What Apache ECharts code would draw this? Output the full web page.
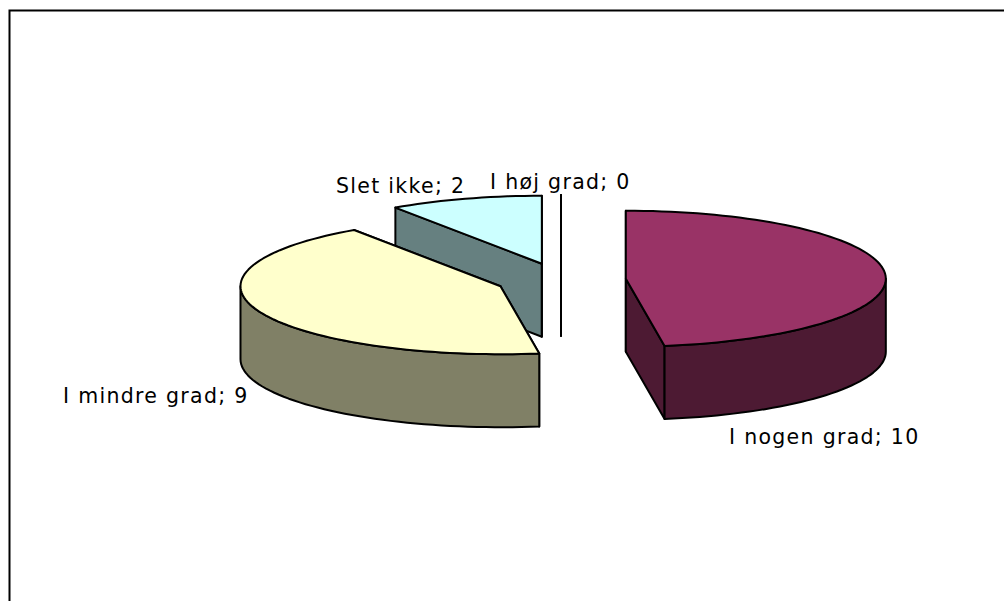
<!DOCTYPE html>
<html>
<head>
<meta charset="utf-8">
<style>
html, body { margin: 0; padding: 0; background: #fff; overflow: hidden; }
#main { width: 1004px; height: 601px; }
/* the original font is wider than DejaVu Sans */
#main text { letter-spacing: 1.3px; }
</style>
<script src="https://cdn.jsdelivr.net/npm/echarts@6/dist/echarts.min.js"></script>
</head>
<body>
<div id="main"></div>
<script>
// clockwise from 12 o'clock
var categories = ['I nogen grad', 'I mindre grad', 'Slet ikke', 'I høj grad'];
var values = [10, 9, 2, 0];
var topColors = ['#993366', '#FFFFCC', '#CCFFFF', '#000000'];
var sideColors = ['#4D1A33', '#808066', '#668080', '#000000'];
var labelPos = [[729, 437], [63, 396], [336, 186], [490, 181.5]];

// pie geometry
var cx = 561, cy = 280, rx = 260, ry = 68, depth = 73, explode = 65;
var total = values.reduce(function (a, b) { return a + b; }, 0);

function rimPoint(c, deg, down) {
  var a = deg * Math.PI / 180;
  return [c[0] + rx * Math.sin(a), c[1] - ry * Math.cos(a) + (down || 0)];
}

function arcPoints(c, from, to, down) {
  var pts = [];
  var n = Math.max(1, Math.ceil((to - from) / 2));
  for (var i = 0; i <= n; i++) {
    pts.push(rimPoint(c, from + (to - from) * i / n, down));
  }
  return pts;
}

function face(points, color, z2) {
  return {
    type: 'polygon',
    z2: z2,
    shape: { points: points },
    style: { fill: color, stroke: '#000', lineWidth: 2, lineJoin: 'round' }
  };
}

function renderSlice(params, api) {
  var i = api.value(0);
  var start = 0;
  for (var k = 0; k < i; k++) start += values[k];
  var from = start / total * 360;
  var to = (start + api.value(1)) / total * 360;
  var mid = (from + to) / 2 * Math.PI / 180;
  var c = [cx + explode * Math.sin(mid), cy - explode * ry / rx * Math.cos(mid)];
  var low = [c[0], c[1] + depth];
  var z = (values.length - i) * 10;
  var children = [];

  // walls first, the front rim over them, the top face last
  children.push(face([c, rimPoint(c, from), rimPoint(c, from, depth), low], sideColors[i], z));
  children.push(face([c, rimPoint(c, to), rimPoint(c, to, depth), low], sideColors[i], z + 1));
  var a = Math.max(from, 90), b = Math.min(to, 270);
  if (b > a) {
    children.push(face(arcPoints(c, a, b).concat(arcPoints(c, a, b, depth).reverse()), sideColors[i], z + 2));
  }
  children.push(face([c].concat(arcPoints(c, from, to)), topColors[i], z + 3));
  return { type: 'group', children: children };
}

var myChart = echarts.init(document.getElementById('main'), null, { renderer: 'svg' });
var option = {
  animation: false,
  backgroundColor: '#fff',
  graphic: [
    {
      type: 'rect',
      silent: true,
      shape: { x: 9.5, y: 10.5, width: 1100, height: 700 },
      style: { fill: 'none', stroke: '#000', lineWidth: 2 }
    }
  ].concat(categories.map(function (name, i) {
    return {
      type: 'text',
      z: 100,
      x: labelPos[i][0],
      y: labelPos[i][1],
      style: {
        text: name + '; ' + values[i],
        fill: '#000',
        font: '20.5px "DejaVu Sans"',
        textVerticalAlign: 'middle'
      }
    };
  })),
  series: [
    {
      type: 'custom',
      coordinateSystem: 'none',
      clip: false,
      renderItem: renderSlice,
      data: values.map(function (v, i) { return [i, v]; })
    }
  ]
};
myChart.setOption(option);
</script>
</body>
</html>
